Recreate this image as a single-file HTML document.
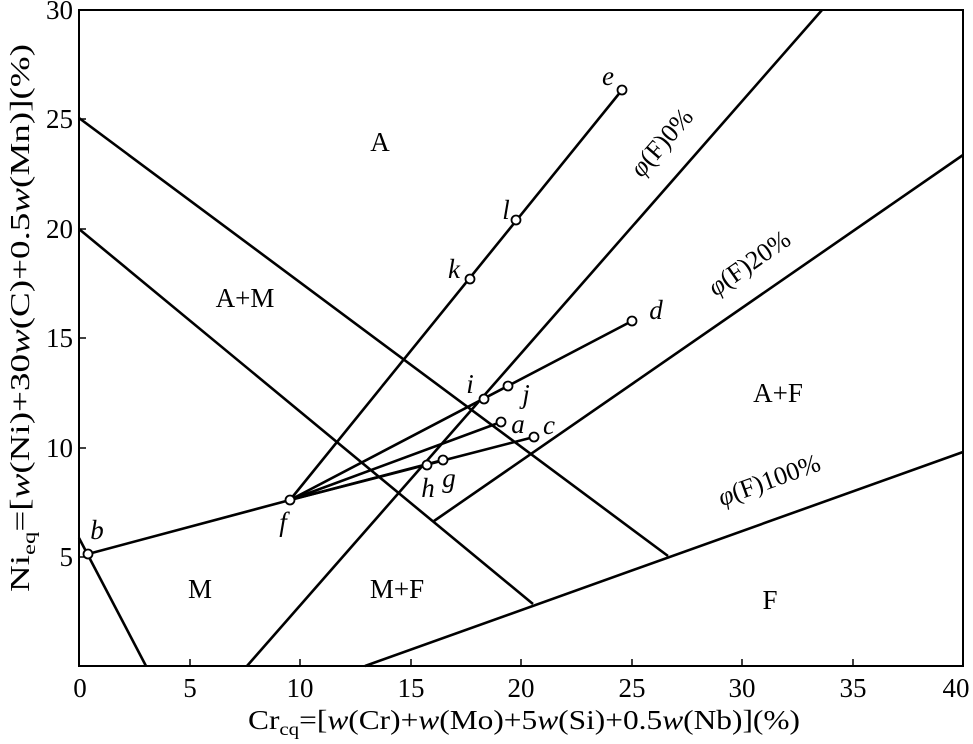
<!DOCTYPE html>
<html><head><meta charset="utf-8"><style>
body{margin:0;background:#fff}
svg text{font-family:"Liberation Serif",serif;fill:#000}
</style></head><body>
<svg width="973" height="739" viewBox="0 0 973 739" xmlns="http://www.w3.org/2000/svg">
<g stroke="#000" fill="none">
<rect x="79" y="10" width="884" height="656" stroke-width="2"/>
<g stroke-width="1.5">
<line x1="190" y1="666" x2="190" y2="659"/><line x1="300" y1="666" x2="300" y2="659"/>
<line x1="411" y1="666" x2="411" y2="659"/><line x1="521" y1="666" x2="521" y2="659"/>
<line x1="632" y1="666" x2="632" y2="659"/><line x1="742" y1="666" x2="742" y2="659"/>
<line x1="853" y1="666" x2="853" y2="659"/>
<line x1="79" y1="557" x2="86" y2="557"/><line x1="79" y1="448" x2="86" y2="448"/>
<line x1="79" y1="338" x2="86" y2="338"/><line x1="79" y1="229" x2="86" y2="229"/>
<line x1="79" y1="119" x2="86" y2="119"/>
</g>
<g stroke-width="2.6">
<line x1="79" y1="118" x2="668" y2="556"/>
<line x1="79" y1="229" x2="533" y2="604"/>
<line x1="79" y1="538" x2="146" y2="666"/>
<line x1="88" y1="554" x2="290" y2="500"/>
<line x1="290" y1="500" x2="622" y2="90"/>
<line x1="290" y1="500" x2="632" y2="321"/>
<line x1="290" y1="500" x2="501" y2="422"/>
<line x1="290" y1="500" x2="534" y2="437"/>
<line x1="290" y1="500" x2="443" y2="460"/>
<line x1="247" y1="666" x2="822" y2="10"/>
<line x1="434" y1="521" x2="963" y2="155"/>
<line x1="365" y1="666" x2="963" y2="452"/>
</g>
<g stroke-width="1.8" fill="#fff">
<circle cx="88" cy="554" r="4.5"/><circle cx="290" cy="500" r="4.5"/>
<circle cx="622" cy="90" r="4.5"/><circle cx="516" cy="220" r="4.5"/>
<circle cx="470" cy="279" r="4.5"/><circle cx="632" cy="321" r="4.5"/>
<circle cx="484" cy="399" r="4.5"/><circle cx="508" cy="386" r="4.5"/>
<circle cx="501" cy="422" r="4.5"/><circle cx="534" cy="437" r="4.5"/>
<circle cx="443" cy="460" r="4.5"/><circle cx="427" cy="465" r="4.5"/>
</g>
</g>
<g font-size="27" text-anchor="middle">
<text x="80" y="697">0</text><text x="190" y="697">5</text><text x="300" y="697">10</text>
<text x="411" y="697">15</text><text x="521" y="697">20</text><text x="632" y="697">25</text>
<text x="742" y="697">30</text><text x="853" y="697">35</text><text x="956" y="697">40</text>
</g>
<g font-size="27" text-anchor="end">
<text x="73" y="566">5</text><text x="73" y="457">10</text><text x="73" y="347">15</text>
<text x="73" y="238">20</text><text x="73" y="128">25</text><text x="73" y="19">30</text>
</g>
<g font-size="27" text-anchor="middle">
<text x="380" y="151">A</text><text x="245" y="307">A+M</text><text x="778" y="402">A+F</text>
<text x="200" y="598">M</text><text x="397" y="598">M+F</text><text x="770" y="609">F</text>
</g>
<g font-size="27" font-style="italic" text-anchor="middle">
<text x="608" y="85">e</text><text x="506" y="219">l</text><text x="454" y="278">k</text>
<text x="656" y="319">d</text><text x="470" y="393">i</text><text x="526" y="403">j</text>
<text x="518" y="433">a</text><text x="549" y="434">c</text><text x="449" y="487">g</text>
<text x="428" y="497">h</text><text x="283" y="531">f</text><text x="97" y="539">b</text>
</g>
<g font-size="26">
<text transform="translate(668,148) rotate(-49)" text-anchor="middle"><tspan font-style="italic">φ</tspan>(F)0%</text>
<text transform="translate(754,270) rotate(-35)" text-anchor="middle"><tspan font-style="italic">φ</tspan>(F)20%</text>
<text transform="translate(772,488) rotate(-20)" text-anchor="middle"><tspan font-style="italic">φ</tspan>(F)100%</text>
</g>
<text font-size="27" text-anchor="middle" textLength="548" lengthAdjust="spacingAndGlyphs" transform="translate(29,318) rotate(-90)">Ni<tspan font-size="18" dy="6">eq</tspan><tspan dy="-6">=[</tspan><tspan font-style="italic">w</tspan>(Ni)+30<tspan font-style="italic">w</tspan>(C)+0.5<tspan font-style="italic">w</tspan>(Mn)](%)</text>
<text x="524" y="729" font-size="27" text-anchor="middle" textLength="552" lengthAdjust="spacingAndGlyphs">Cr<tspan font-size="18" dy="6">cq</tspan><tspan dy="-6">=[</tspan><tspan font-style="italic">w</tspan>(Cr)+<tspan font-style="italic">w</tspan>(Mo)+5<tspan font-style="italic">w</tspan>(Si)+0.5<tspan font-style="italic">w</tspan>(Nb)](%)</text>
</svg>
</body></html>
